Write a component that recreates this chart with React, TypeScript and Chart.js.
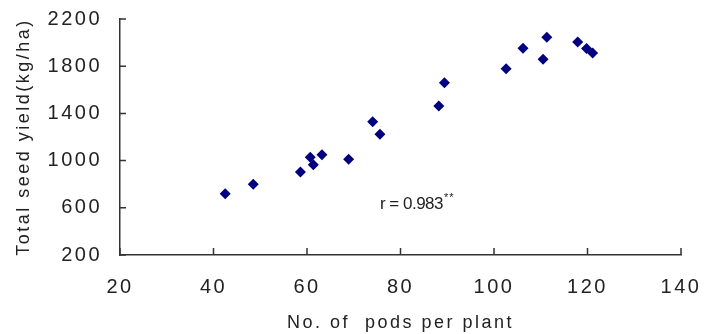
import React, { useEffect, useRef } from "react";
import { Chart, registerables } from "chart.js";

Chart.register(...registerables);

const podsPerPlant = [42.5, 48.5, 58.6, 60.7, 61.35, 63.2, 68.9, 74.05, 75.6, 88.2, 89.4, 102.6, 106.2, 110.5, 111.3, 117.9, 119.8, 121.1];
const seedYield = [720, 799, 903, 1028, 965, 1050, 1011, 1330, 1223, 1463, 1660, 1779, 1952, 1858, 2045, 2005, 1950, 1912];
const xTitle = "No. of  pods per plant";
const yTitle = "Total seed yield(kg/ha)";
const annotationText = "r = 0.983";
const annotationSup = "**";
const annotationAt = { x: 75.6, y: 590 };

const FONT = "'Liberation Sans', Arial, sans-serif";
const TEXT = "#222";

export default function App() {
  const ref = useRef<HTMLCanvasElement | null>(null);
  useEffect(() => {
    const canvas = ref.current!;
    const spacingPlugin = {
      id: "spacing",
      beforeDraw(chart: any) {
        chart.ctx.letterSpacing = "2.5px";
      },
      afterDraw(chart: any) {
        const ctx = chart.ctx;
        const xs = chart.scales.x;
        const ys = chart.scales.y;
        ctx.save();
        ctx.letterSpacing = "0px";
        ctx.strokeStyle = "#333";
        ctx.lineWidth = 1.5;
        ctx.beginPath();
        xs.ticks.forEach((t: any, i: number) => {
          const px = xs.getPixelForTick(i);
          ctx.moveTo(px, ys.bottom);
          ctx.lineTo(px, ys.bottom - 7);
        });
        ys.ticks.forEach((t: any, i: number) => {
          const py = ys.getPixelForTick(i);
          ctx.moveTo(xs.left, py);
          ctx.lineTo(xs.left + 6, py);
        });
        ctx.stroke();
        const ax = xs.getPixelForValue(annotationAt.x);
        const ay = ys.getPixelForValue(annotationAt.y);
        ctx.fillStyle = TEXT;
        ctx.textAlign = "left";
        ctx.textBaseline = "alphabetic";
        ctx.font = `17px ${FONT}`;
        ctx.letterSpacing = "-0.5px";
        ctx.fillText(annotationText, ax, ay);
        const w = ctx.measureText(annotationText).width;
        ctx.font = `11px ${FONT}`;
        ctx.letterSpacing = "1px";
        ctx.fillText(annotationSup, ax + w + 1, ay - 8);
        ctx.restore();
      },
    };
    const zeroPad = (s: any) => {
      s.paddingTop = 0;
      s.paddingBottom = 0;
      s.paddingLeft = 0;
      s.paddingRight = 0;
    };
    const chart = new Chart(canvas, {
      type: "scatter",
      data: {
        datasets: [
          {
            data: podsPerPlant.map((x, i) => ({ x, y: seedYield[i] })),
            pointStyle: "rectRot",
            pointRadius: 5.5,
            backgroundColor: "#000080",
            borderColor: "#000080",
            borderWidth: 0,
          },
        ],
      },
      options: {
        animation: false,
        responsive: false,
        devicePixelRatio: 1,
        layout: { padding: { top: 19, right: 23, left: 0, bottom: 0 } },
        plugins: { legend: { display: false }, tooltip: { enabled: false } },
        scales: {
          x: {
            type: "linear",
            min: 20,
            max: 140,
            ticks: { stepSize: 20, color: TEXT, font: { family: FONT, size: 20 }, padding: 20, maxRotation: 0, callback: (v: any) => String(v) },
            grid: { display: false, drawTicks: false },
            border: { display: true, color: "#333", width: 1.5 },
            title: { display: true, text: xTitle, color: TEXT, font: { family: FONT, size: 18 }, padding: { top: 5, bottom: 0 } },
            afterFit: (s: any) => {
              s.height = 79;
              zeroPad(s);
            },
          },
          y: {
            type: "linear",
            min: 200,
            max: 2200,
            ticks: { stepSize: 400, color: TEXT, font: { family: FONT, size: 20 }, padding: 18, callback: (v: any) => String(v) },
            grid: { display: false, drawTicks: false },
            border: { display: true, color: "#333", width: 1.5 },
            title: { display: true, text: yTitle, color: TEXT, font: { family: FONT, size: 18 }, padding: { top: 13, bottom: 0 } },
            afterFit: (s: any) => {
              s.width = 120;
              zeroPad(s);
            },
          },
        },
      },
      plugins: [spacingPlugin],
    });
    return () => chart.destroy();
  }, []);
  return (
    <div style={{ position: "absolute", left: 0, top: 0, width: 704, height: 334, background: "#fff" }}>
      <canvas ref={ref} width={704} height={334} />
    </div>
  );
}
